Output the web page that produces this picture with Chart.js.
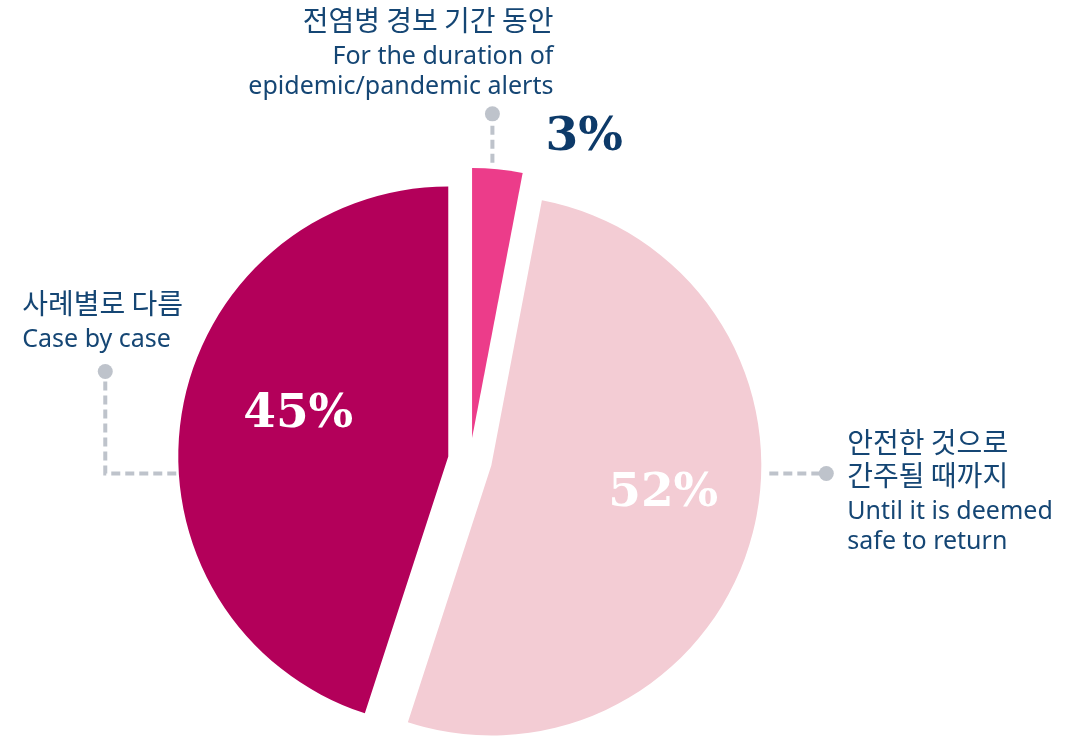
<!DOCTYPE html>
<html><head><meta charset="utf-8">
<script src="https://cdn.jsdelivr.net/npm/chart.js@4/dist/chart.umd.min.js"></script>
<style>html,body{margin:0;padding:0;background:#fff;overflow:hidden}#wrap{width:1079px;height:736px;position:relative}</style>
</head><body><div id="wrap"><canvas id="c" width="1079" height="736"></canvas></div>
<script>
// ---- data ----
const categories = ['전염병 경보 기간 동안', '안전한 것으로 간주될 때까지', '사례별로 다름'];
const labelLinesKo = [['전염병 경보 기간 동안'], ['안전한 것으로', '간주될 때까지'], ['사례별로 다름']];
const labelLinesEn = [['For the duration of', 'epidemic/pandemic alerts'], ['Until it is deemed', 'safe to return'], ['Case by case']];
const values = [3, 52, 45];
const valueLabels = values.map(v => v + '%');

// ---- style ----
const sliceColors = ['#EC3C8A', '#F3CCD4', '#B3005A'];
const valueColors = ['#0D3A69', '#FFFFFF', '#FFFFFF'];
const textColor = '#154674';
const connColor = '#BEC3CB';
const R = 270, SHIFT = 22;
// value label placement relative to slice apex: [angle delta deg, radius fraction]
const valuePlace = [[15.1, 1.186], [-5.2, 0.645], [6.6, 0.577]];

function apex(el) {
  const mid = (el.startAngle + el.endAngle) / 2;
  return {x: el.x + Math.cos(mid) * SHIFT, y: el.y + Math.sin(mid) * SHIFT, mid};
}

// explode each slice outward along its mid-angle
const explodePlugin = {
  id: 'explode',
  afterUpdate(chart) {
    chart.getDatasetMeta(0).data.forEach(el => {
      if (el._exploded) return;
      const baseDraw = el.draw;
      el.draw = function (ctx, area) {
        const mid = (this.startAngle + this.endAngle) / 2;
        ctx.save();
        ctx.translate(Math.cos(mid) * SHIFT, Math.sin(mid) * SHIFT);
        baseDraw.call(this, ctx, area);
        ctx.restore();
      };
      el._exploded = true;
    });
  }
};

function dashed(ctx, pts) {
  ctx.save();
  ctx.strokeStyle = connColor; ctx.lineWidth = 4; ctx.setLineDash([9, 5]);
  ctx.beginPath(); ctx.moveTo(pts[0][0], pts[0][1]);
  for (let i = 1; i < pts.length; i++) ctx.lineTo(pts[i][0], pts[i][1]);
  ctx.stroke(); ctx.restore();
}
function dot(ctx, x, y) {
  ctx.save(); ctx.fillStyle = connColor; ctx.beginPath(); ctx.arc(x, y, 7.5, 0, Math.PI * 2); ctx.fill(); ctx.restore();
}
function lines(ctx, x, y0, align, ko, en) {
  ctx.save(); ctx.fillStyle = textColor; ctx.textAlign = align; ctx.textBaseline = 'alphabetic';
  let y = y0;
  ctx.font = '28px "Noto Sans CJK KR"';
  ko.forEach(t => { ctx.fillText(t, x, y); y += 33; });
  ctx.font = '25px "Noto Sans", "Open Sans", sans-serif';
  en.forEach(t => { ctx.fillText(t, x, y); y += 30; });
  ctx.restore();
}

const annotatePlugin = {
  id: 'annotate',
  afterDatasetsDraw(chart) {
    const ctx = chart.ctx;
    const els = chart.getDatasetMeta(0).data;
    // value labels
    els.forEach((el, i) => {
      const a = apex(el);
      const ang = a.mid + valuePlace[i][0] * Math.PI / 180;
      const r = valuePlace[i][1] * R;
      ctx.save();
      ctx.font = 'bold 47px "DejaVu Serif", serif';
      ctx.fillStyle = valueColors[i]; ctx.textAlign = 'center'; ctx.textBaseline = 'middle';
      ctx.fillText(valueLabels[i], a.x + Math.cos(ang) * r, a.y + Math.sin(ang) * r);
      ctx.restore();
    });
    // top connector (slice 0)
    {
      const el = els[0], a = apex(el);
      const ang = el.startAngle + 0.4 * (el.endAngle - el.startAngle);
      const px = a.x + Math.cos(ang) * R, py = a.y + Math.sin(ang) * R;
      const dy = py - 55;
      dashed(ctx, [[px, py - 6], [px, dy + 6]]);
      dot(ctx, px, dy);
      lines(ctx, px + 61, dy - 83, 'right', labelLinesKo[0], labelLinesEn[0]);
    }
    // right connector (slice 1)
    {
      const a = apex(els[1]);
      const y = a.y + 8, x0 = a.x + R + 8, dx = a.x + R + 65;
      dashed(ctx, [[x0, y], [dx - 6, y]]);
      dot(ctx, dx, y);
      lines(ctx, dx + 21, y - 20, 'left', labelLinesKo[1], labelLinesEn[1]);
    }
    // left connector (slice 2)
    {
      const a = apex(els[2]);
      const y = a.y + 17, x0 = a.x - R - 2, dx = a.x - R - 73, dy = a.y - 85;
      dashed(ctx, [[x0, y], [dx, y], [dx, dy + 6]]);
      dot(ctx, dx, dy);
      lines(ctx, dx - 83, dy - 58, 'left', labelLinesKo[2], labelLinesEn[2]);
    }
  }
};

new Chart(document.getElementById('c'), {
  type: 'pie',
  data: {
    labels: categories,
    datasets: [{
      data: values,
      backgroundColor: sliceColors,
      borderWidth: 0
    }]
  },
  options: {
    responsive: false,
    devicePixelRatio: 1,
    animation: false,
    radius: R,
    layout: {padding: {left: 0, right: 139, top: 184, bottom: 0}},
    plugins: {legend: {display: false}, tooltip: {enabled: false}}
  },
  plugins: [explodePlugin, annotatePlugin]
});
</script></body></html>
